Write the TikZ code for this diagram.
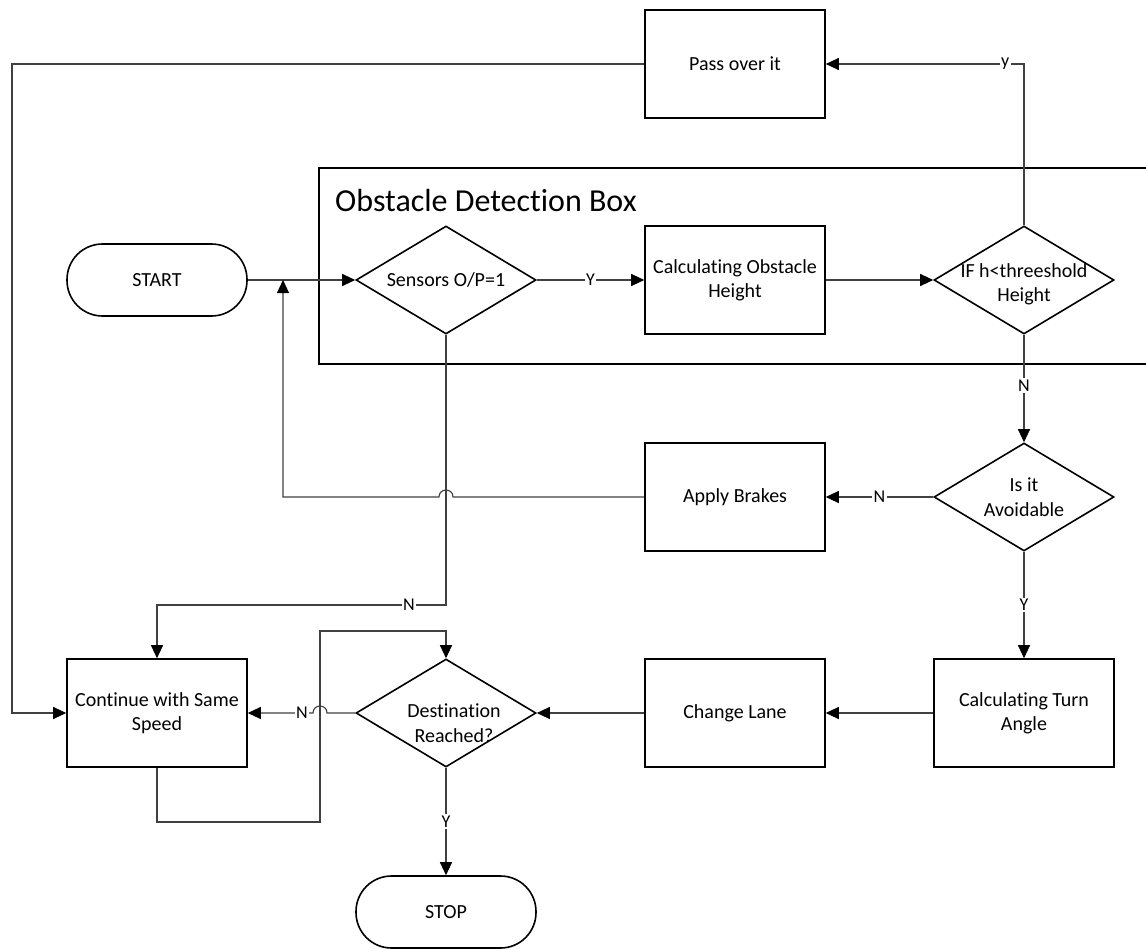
\documentclass[tikz,border=0pt]{standalone}
\usepackage{fontspec}
\setmainfont{Carlito}[Ligatures=NoCommon]
\usetikzlibrary{arrows.meta,shapes.geometric}
\newcommand\fbody{\fontsize{20}{24.4}\selectfont}
\newcommand\flabel{\fontsize{18}{20}\selectfont}
\newcommand\ftitle{\fontsize{32}{38}\selectfont}
\begin{document}
\begin{tikzpicture}[x=1pt,y=-1pt,
  proc/.style={draw=black, line width=1.6pt, minimum width=180pt, minimum height=108pt,
    inner sep=0pt, align=center, font=\fbody},
  dec/.style={diamond, draw=black, line width=1.6pt, minimum width=180pt,
    minimum height=108pt, inner sep=0pt},
  term/.style={draw=black, line width=1.6pt, rounded corners=35.5pt, minimum width=180pt,
    minimum height=72pt, inner sep=0pt, font=\fbody},
  txt/.style={align=center, inner sep=0pt, font=\fbody},
  conn/.style={draw=black!75, line width=1.1pt},
  arr/.style={conn, -{Triangle[length=13pt,width=12pt,color=black]}},
  lbl/.style={fill=white, inner sep=1.5pt, font=\flabel}]
\useasboundingbox (0,0) rectangle (1146,950);
\clip (0,0) rectangle (1146,950);

% obstacle detection frame (runs off the right edge)
\draw[line width=1.6pt] (1160,168) -- (319,168) -- (319,364) -- (1160,364);
\node[anchor=base west, inner sep=0pt, font=\ftitle] (title) at (335,211) {Obstacle Detection Box};

% nodes
\node[term] (start) at (157,280) {START};
\node[dec] (sens) at (446,280) {};
\node[txt] at (sens) {Sensors O/P=1};
\node[proc] (calch) at (735,280) {Calculating Obstacle\\Height};
\node[dec] (ifh) at (1024,280) {};
\node[txt] at (1024,284) {IF h<threeshold\\Height};
\node[proc] (pass) at (735,64) {Pass over it};
\node[dec] (avoid) at (1024,497) {};
\node[txt] at (1024,497) {Is it\\Avoidable};
\node[proc] (brake) at (735,497) {Apply Brakes};
\node[proc] (turn) at (1024,713) {Calculating Turn\\Angle};
\node[proc] (lane) at (735,713) {Change Lane};
\node[dec] (dest) at (446,713) {};
\node[txt] at (454,723) {Destination\\Reached?};
\node[proc] (cont) at (157,713) {Continue with Same\\Speed};
\node[term] (stop) at (446,912) {STOP};

% connectors
\draw[arr] (start.east) -- (sens.west);
\draw[arr] (sens.east) -- node[lbl]{Y} (calch.west);
\draw[arr] (calch.east) -- (ifh.west);
\draw[arr] (ifh.north) -- (1024,64) -- node[lbl,pos=0.095]{y} (pass.east);
\draw[arr] (pass.west) -- (12,64) -- (12,713) -- (cont.west);
\draw[arr] (ifh.south) -- node[lbl,pos=0.47]{N} (avoid.north);
\draw[arr] (avoid.west) -- node[lbl]{N} (brake.east);
\draw[arr] (sens.south) -- (446,605) -- node[lbl,pos=0.128]{N} (157,605) -- (cont.north);
\draw[arr] (brake.west) -- (453,497) .. controls (453,487.7) and (439,487.7) .. (439,497)
  -- (283,497) -- (283,280);
\draw[arr] (avoid.south) -- node[lbl]{Y} (turn.north);
\draw[arr] (turn.west) -- (lane.east);
\draw[arr] (lane.west) -- (dest.east);
\draw[arr] (dest.west) -- (327,713) .. controls (327,703.7) and (313,703.7) .. (313,713)
  -- node[lbl,pos=0.17]{N} (cont.east);
\draw[arr] (cont.south) -- (157,822) -- (320,822) -- (320,631) -- (446,631) -- (dest.north);
\draw[arr] (dest.south) -- node[lbl]{Y} (stop.north);
\end{tikzpicture}
\end{document}
